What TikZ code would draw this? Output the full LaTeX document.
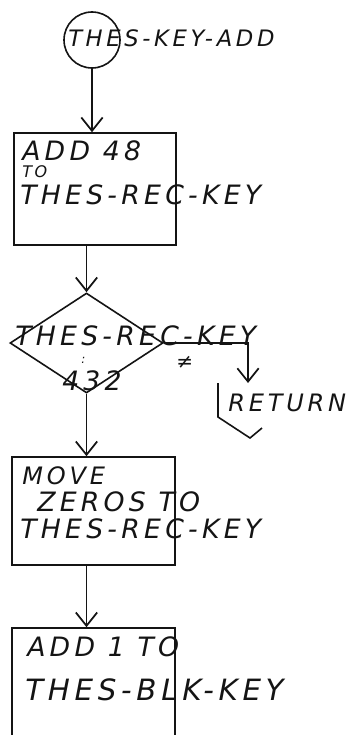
\documentclass[tikz,border=0pt]{standalone}
\usepackage{fontspec}
\usepackage{tikz}
\usetikzlibrary{shapes.geometric, arrows.meta, positioning, calc}
\newfontfamily\handfont[LetterSpace=16]{DejaVu Sans}
\definecolor{inkblack}{RGB}{20,20,20}

\begin{document}
\begin{tikzpicture}[x=0.75pt, y=-0.75pt, font=\handfont\itshape\fontsize{20}{22}\selectfont]
  \tikzset{
    flow/.style={draw=inkblack, line width=1.3pt,
      -{Straight Barb[length=10pt, width=16pt, line width=1.3pt]}},
    procbox/.style={rectangle, draw=inkblack, line width=1.2pt, inner sep=0pt},
    hand/.style={anchor=west, inner sep=0pt, text=inkblack},
    small hand/.style={hand, font=\handfont\itshape\fontsize{12}{14}\selectfont}
  }
  \useasboundingbox (0,0) rectangle (352,735);
  \clip (0,0) rectangle (352,735);
  % entry point
  \node[circle, draw=inkblack, line width=1.2pt, minimum size=42pt, inner sep=0pt] (start) at (92,40) {};
  \node[hand, font=\handfont\itshape\fontsize{17}{20}\selectfont] (startlbl) at (68,38) {THES-KEY-ADD};
  % boxes and decision
  \node[procbox, minimum width=121.5pt, minimum height=84pt] (box1) at (95,189) {};
  \node[diamond, draw=inkblack, line width=1.2pt, inner sep=0pt,
        minimum width=114.75pt, minimum height=75pt] (dec) at (86.5,343) {};
  \node[procbox, minimum width=122.25pt, minimum height=81pt] (box2) at (93.5,511) {};
  \node[procbox, minimum width=122.25pt, minimum height=99pt] (box3) at (93.5,694) {};
  % texts
  \node[hand] (add48) at (22,151) {ADD 48};
  \node[small hand] (to1) at (22,172) {TO};
  \node[hand] (rec1) at (20,195) {THES-REC-KEY};
  \node[hand] (rec2) at (15,336) {THES-REC-KEY};
  \node[hand, font=\handfont\itshape\fontsize{9}{10}\selectfont] (colon) at (81,360) {:};
  \node[hand] (val) at (62,381) {432};
  \node[hand, font=\handfont\itshape\fontsize{15}{16}\selectfont] (ne) at (176,362) {≠};
  \node[hand, font=\handfont\itshape\fontsize{18}{20}\selectfont] (move) at (22,476) {MOVE};
  \node[hand] (zeros) at (37,502) {ZEROS TO};
  \node[hand] (rec3) at (20,529) {THES-REC-KEY};
  \node[hand] (add1) at (27,647) {ADD 1 TO};
  \node[hand, font=\handfont\itshape\fontsize{22}{24}\selectfont] (blk) at (25,690) {THES-BLK-KEY};
  \node[hand, font=\handfont\itshape\fontsize{18}{20}\selectfont] (ret) at (228,403) {RETURN};
  \coordinate (retin) at (248,383);
  % return terminal, drawn open as on the sheet
  \draw[inkblack, line width=1.2pt] (218,383) -- (218,417) -- (250,438) -- (262,428);
  % connectors
  \draw[flow] (start.south) -- (start.south |- box1.north);
  \draw[flow] (dec.north |- box1.south) -- (dec.north);
  \draw[flow] (dec.east) -| (retin);
  \draw[flow] (dec.south) -- (dec.south |- box2.north);
  \draw[flow] (box2.south -| dec.south) -- (box3.north -| dec.south);
\end{tikzpicture}
\end{document}
